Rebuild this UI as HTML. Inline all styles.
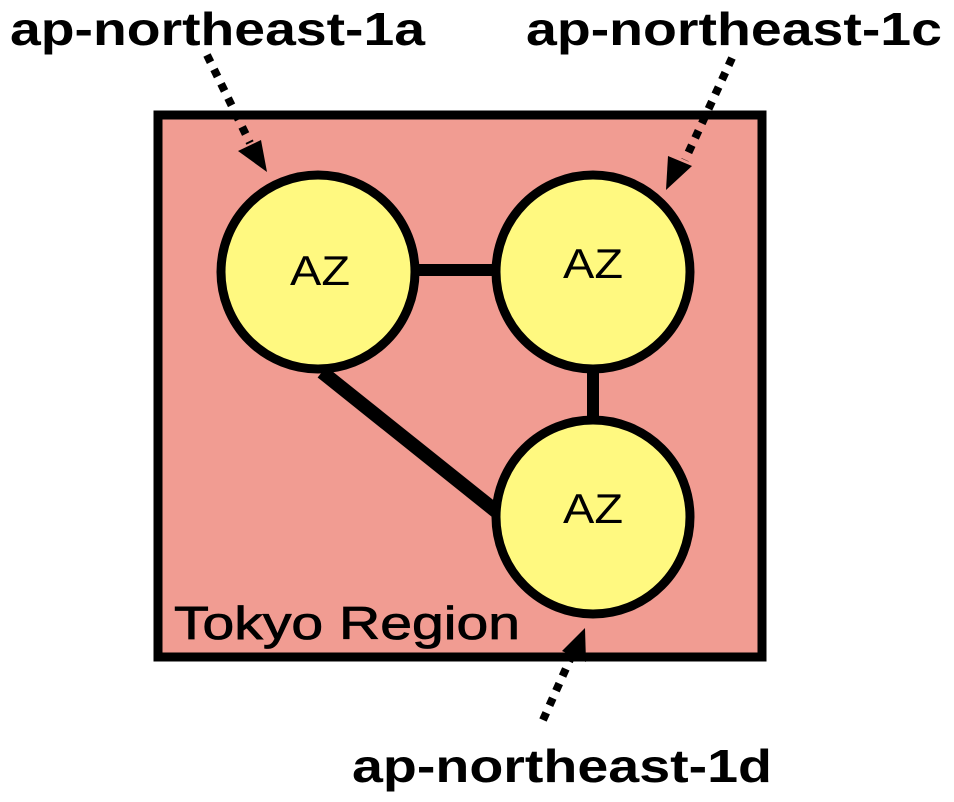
<!DOCTYPE html>
<html><head><style>html,body{margin:0;padding:0;background:#fff;}svg{display:block}</style></head>
<body>
<svg width="954" height="802" xmlns="http://www.w3.org/2000/svg">
<rect x="158" y="115" width="604" height="542" fill="#F19C92" stroke="#000" stroke-width="9"/>
<line x1="415" y1="270" x2="495" y2="270" stroke="#000" stroke-width="12"/>
<line x1="593" y1="368" x2="593" y2="422" stroke="#000" stroke-width="12"/>
<line x1="322" y1="372" x2="497" y2="512" stroke="#000" stroke-width="14"/>
<circle cx="318" cy="272" r="97" fill="#FFF980" stroke="#000" stroke-width="9"/>
<circle cx="593" cy="272" r="97" fill="#FFF980" stroke="#000" stroke-width="9"/>
<circle cx="593" cy="517" r="97" fill="#FFF980" stroke="#000" stroke-width="9"/>
<g font-family="Liberation Sans, sans-serif" font-size="42" fill="#000" lengthAdjust="spacingAndGlyphs">
<text x="290" y="285" textLength="60" lengthAdjust="spacingAndGlyphs">AZ</text>
<text x="563" y="278" textLength="60" lengthAdjust="spacingAndGlyphs">AZ</text>
<text x="563" y="523" textLength="60" lengthAdjust="spacingAndGlyphs">AZ</text>
</g>
<g stroke="#000" stroke-width="8" stroke-dasharray="8,8">
<line x1="207" y1="55" x2="250" y2="143"/>
<line x1="732" y1="58" x2="685" y2="160"/>
<line x1="543" y1="720" x2="572" y2="655"/>
</g>
<polygon points="267,172 238,151 261,140" fill="#000"/>
<polygon points="666,190 668,156 692,166" fill="#000"/>
<polygon points="585,628 586,662 562,651" fill="#000"/>
<g font-family="Liberation Sans, sans-serif" font-weight="bold" font-size="46" fill="#000">
<text x="10" y="45" textLength="415" lengthAdjust="spacingAndGlyphs">ap-northeast-1a</text>
<text x="526" y="45" textLength="416" lengthAdjust="spacingAndGlyphs">ap-northeast-1c</text>
<text x="352" y="782" textLength="420" lengthAdjust="spacingAndGlyphs">ap-northeast-1d</text>
</g>
<text x="174" y="639" font-family="Liberation Sans, sans-serif" font-size="46" fill="#000" stroke="#000" stroke-width="0.8" textLength="346" lengthAdjust="spacingAndGlyphs">Tokyo Region</text>
</svg>
</body></html>
